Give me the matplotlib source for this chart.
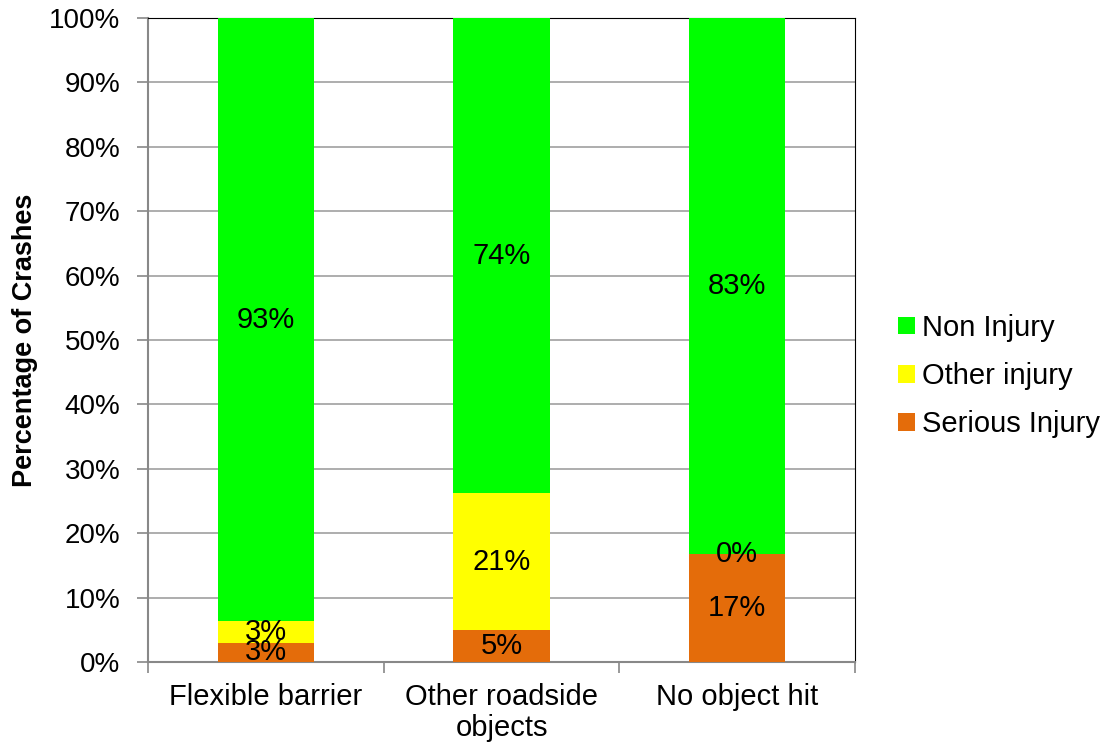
import numpy as np
import matplotlib.pyplot as plt

plt.rcParams['font.family'] = ['Liberation Sans', 'DejaVu Sans']

categories = ['Flexible barrier', 'Other roadside\nobjects', 'No object hit']
serious = [3.0, 5.0, 16.7]
other = [3.3, 21.2, 0.0]
non_injury = [93.7, 73.8, 83.3]
serious_lbl = ['3%', '5%', '17%']
other_lbl = ['3%', '21%', '0%']
non_lbl = ['93%', '74%', '83%']

fig = plt.figure(figsize=(11.03, 7.47), dpi=100)
ax = fig.add_axes([148 / 1103, 85 / 747, 707 / 1103, 644 / 747])

x = np.arange(len(categories))
w = 0.41
b1 = ax.bar(x, serious, w, color='#E46C0A', label='Serious Injury', zorder=3)
bot2 = np.array(serious)
b2 = ax.bar(x, other, w, bottom=bot2, color='#FFFF00', label='Other injury', zorder=3)
bot3 = bot2 + np.array(other)
b3 = ax.bar(x, non_injury, w, bottom=bot3, color='#00FF00', label='Non Injury', zorder=3)

fs = 21
for i in range(len(x)):
    ax.text(x[i], serious[i] / 2, serious_lbl[i], ha='center', va='center', fontsize=fs, zorder=4)
    ax.text(x[i], bot2[i] + other[i] / 2, other_lbl[i], ha='center', va='center', fontsize=fs, zorder=4)
    ax.text(x[i], bot3[i] + non_injury[i] / 2, non_lbl[i], ha='center', va='center', fontsize=fs, zorder=4)

ax.set_xlim(-0.5, 2.5)
ax.set_ylim(0, 100)
ax.set_yticks(np.arange(0, 101, 10))
ax.set_yticklabels([f'{v}%' for v in range(0, 101, 10)], fontsize=20)
ax.yaxis.grid(True, color='#a0a0a0', linewidth=1.2, zorder=0)
ax.set_xticks(x)
ax.set_xticklabels(categories, fontsize=fs, linespacing=1.15)
ax.set_xticks([-0.5, 0.5, 1.5, 2.5], minor=True)
ax.tick_params(axis='x', which='major', length=0, pad=15)
ax.tick_params(axis='x', which='minor', length=8, color='#888888', width=1.2)
ax.tick_params(axis='y', length=8, color='#888888', width=1.2, pad=12)

ax.spines['left'].set_color('#888888')
ax.spines['left'].set_linewidth(1.5)
ax.spines['bottom'].set_color('#888888')
ax.spines['bottom'].set_linewidth(1.5)
ax.spines['top'].set_color('black')
ax.spines['right'].set_color('black')

ax.set_ylabel('Percentage of Crashes', fontsize=19.5, fontweight='bold', labelpad=8)

handles = [b3, b2, b1]
ax.legend(handles, [h.get_label() for h in handles], loc='center left',
          bbox_to_anchor=(1.045, 0.444), frameon=False, fontsize=fs,
          handlelength=0.55, handleheight=0.55, handletextpad=0.25, labelspacing=0.7,
          borderaxespad=0)

fig.savefig('out.png', dpi=100)
